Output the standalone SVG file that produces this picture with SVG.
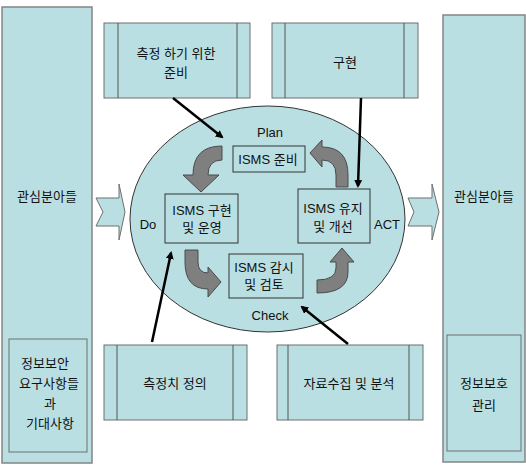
<svg xmlns="http://www.w3.org/2000/svg" width="526" height="465" viewBox="0 0 526 465">
<defs>
<style>
.t{font-family:"Liberation Sans","Noto Sans CJK KR",sans-serif;font-size:13px;fill:#111;text-anchor:middle;dominant-baseline:central}
.big{fill:#b9dfe3;stroke:#858585;stroke-width:1.5}
.box{fill:#b9dfe3;stroke:#6f6f6f;stroke-width:1}
.in{fill:#b9dfe3;stroke:#333;stroke-width:1}
.div{stroke:#555;stroke-width:1}
.blk{fill:#b9dfe3;stroke:#6f6f6f;stroke-width:1}
.ga{fill:#7f7f7f;stroke:#4a4a4a;stroke-width:1}
.ln{stroke:#000;stroke-width:2.5;fill:none;marker-end:url(#ah)}
</style>
<marker id="ah" markerWidth="8" markerHeight="8" refX="6" refY="4" orient="auto" markerUnits="userSpaceOnUse" viewBox="0 0 8 8">
<path d="M0,0 L8,4 L0,8 Z" fill="#000"/>
</marker>
</defs>
<rect width="526" height="465" fill="#fff"/>

<g id="left-panel">
<rect class="big" x="2" y="7" width="90" height="456"/>
<text class="t" x="47" y="196">관심분아들</text>
</g>
<g id="left-inner">
<rect class="box" x="9" y="339" width="78" height="113"/>
<text class="t" x="45" y="363">정보보안</text>
<text class="t" x="49" y="383">요구사항들</text>
<text class="t" x="50" y="403">과</text>
<text class="t" x="50" y="423">기대사항</text>
</g>

<g id="right-panel">
<rect class="big" x="443" y="15" width="82" height="447"/>
<text class="t" x="484" y="196">관심분아들</text>
</g>
<g id="right-inner">
<rect class="box" x="447" y="335" width="74" height="116"/>
<text class="t" x="484" y="383">정보보호</text>
<text class="t" x="484" y="405">관리</text>
</g>

<g id="arrow-in">
<path class="blk" d="M96,198 L119,198 L119,184 L125,212 L119,240 L119,226 L96,226 L103,212 Z"/>
</g>
<g id="arrow-out">
<path class="blk" d="M408,198 L432,198 L432,184 L439,212 L432,240 L432,226 L408,226 L414,212 Z"/>
</g>

<g id="cycle">
<ellipse cx="267.5" cy="219" rx="137.5" ry="113" fill="#b9dfe3" stroke="#333" stroke-width="1"/>
</g>

<g id="box-prep">
<rect class="box" x="104" y="23" width="146" height="75"/>
<line class="div" x1="118" y1="23" x2="118" y2="98"/>
<line class="div" x1="237" y1="23" x2="237" y2="98"/>
<text class="t" x="176" y="53">측정 하기 위한</text>
<text class="t" x="176" y="72">준비</text>
</g>
<g id="box-impl">
<rect class="box" x="272" y="23" width="146" height="75"/>
<line class="div" x1="285" y1="23" x2="285" y2="98"/>
<line class="div" x1="404" y1="23" x2="404" y2="98"/>
<text class="t" x="345" y="62">구현</text>
</g>
<g id="box-measure">
<rect class="box" x="104" y="345" width="143" height="75"/>
<line class="div" x1="117" y1="345" x2="117" y2="420"/>
<line class="div" x1="233" y1="345" x2="233" y2="420"/>
<text class="t" x="175" y="383">측정치 정의</text>
</g>
<g id="box-data">
<rect class="box" x="277" y="345" width="146" height="75"/>
<line class="div" x1="288" y1="345" x2="288" y2="420"/>
<line class="div" x1="409" y1="345" x2="409" y2="420"/>
<text class="t" x="349" y="383">자료수집 및 분석</text>
</g>

<g id="labels">
<text class="t" x="270" y="132">Plan</text>
<text class="t" x="148" y="224">Do</text>
<text class="t" x="387" y="224">ACT</text>
<text class="t" x="270" y="315">Check</text>
</g>

<g id="isms-plan">
<rect class="in" x="233" y="146" width="72" height="26"/>
<text class="t" x="268" y="159">ISMS 준비</text>
</g>
<g id="isms-do">
<rect class="in" x="165" y="194" width="73" height="49"/>
<text class="t" x="202" y="210">ISMS 구현</text>
<text class="t" x="202" y="227">및 운영</text>
</g>
<g id="isms-act">
<rect class="in" x="298" y="189" width="72" height="54"/>
<text class="t" x="333" y="208">ISMS 유지</text>
<text class="t" x="333" y="226">및 개선</text>
</g>
<g id="isms-check">
<rect class="in" x="229" y="254" width="74" height="44"/>
<text class="t" x="264" y="267">ISMS 감시</text>
<text class="t" x="264" y="284">및 검토</text>
</g>

<g id="connectors">
<path class="ga" d="M222,146 L222,160 Q208,160 208,175 L219,175 L201,192 L183,175 L193,175 Q193,146 222,146 Z"/>
<path class="ga" d="M348,187 L336,187 L336,175 Q336,160 322,160 L322,167 L310,153 L322,140 L322,147 Q348,147 348,175 Z"/>
<path class="ga" d="M185,250 L198,250 L198,262 Q198,273 208,273 L208,267 L221,282 L208,297 L208,289 Q185,289 185,262 Z"/>
<path class="ga" d="M317,280 Q336,280 336,268 L336,262 L330,262 L342,248 L354,262 L348,262 L348,272 Q348,293 317,293 Z"/>
<line class="ln" x1="173" y1="98" x2="222" y2="137"/>
<line class="ln" x1="361" y1="98" x2="358" y2="186"/>
<line class="ln" x1="152" y1="342" x2="171" y2="253"/>
<line class="ln" x1="348" y1="344" x2="302" y2="307"/>
</g>
</svg>
